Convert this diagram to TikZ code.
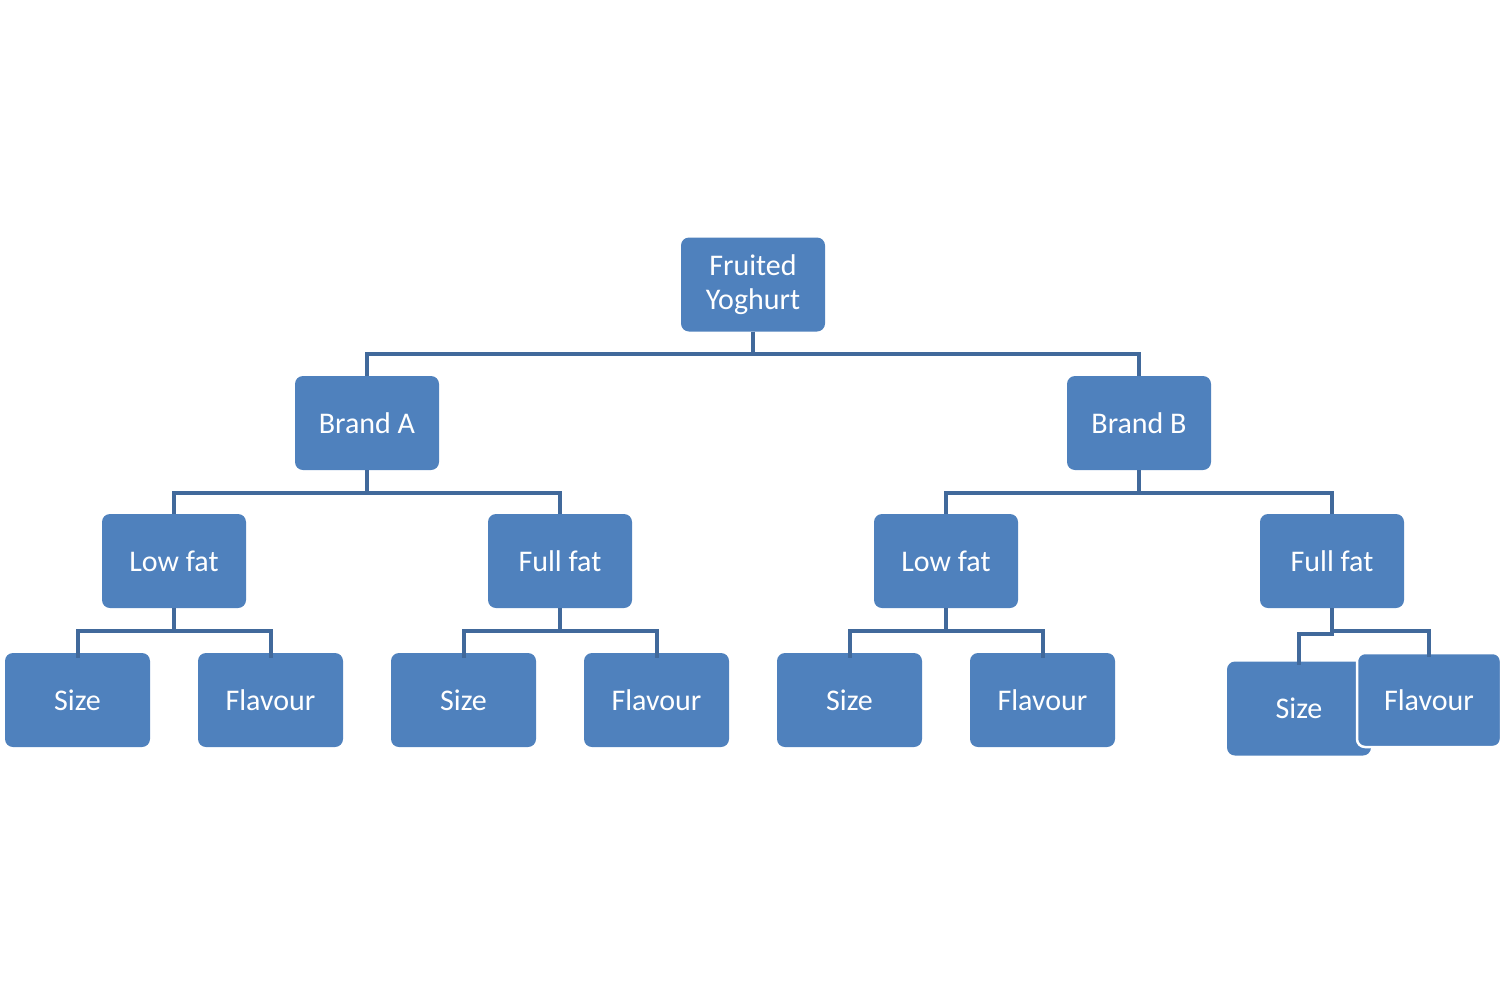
\documentclass[tikz,border=0pt]{standalone}
\usepackage{fontspec}
\setmainfont{Carlito}
\definecolor{boxblue}{HTML}{4F81BD}
\definecolor{linkblue}{HTML}{41699B}
\begin{document}
\begin{tikzpicture}[x=1pt,y=-1pt,
  box/.style={fill=boxblue,draw=none,rounded corners=8pt,text=white,
    minimum width=144pt,minimum height=94pt,inner sep=0pt,align=center,
    font=\fontsize{30}{34}\selectfont},
  leaf/.style={box,minimum width=145pt},
  link/.style={draw=linkblue,line width=4pt}]
\useasboundingbox (0,0) rectangle (1506,985);
\node[box] (root) at (753,284.5) {Fruited\\Yoghurt};
\node[box] (ba) at (367,423) {Brand A};
\node[box] (bb) at (1139,423) {Brand B};
\node[box] (lfa) at (174,561) {Low fat};
\node[box] (ffa) at (560,561) {Full fat};
\node[box] (lfb) at (946,561) {Low fat};
\node[box] (ffb) at (1332,561) {Full fat};
\node[leaf] (sa1) at (77.5,700) {Size};
\node[leaf] (fa1) at (270.5,700) {Flavour};
\node[leaf] (sa2) at (463.5,700) {Size};
\node[leaf] (fa2) at (656.5,700) {Flavour};
\node[leaf] (sb1) at (849.5,700) {Size};
\node[leaf] (fb1) at (1042.5,700) {Flavour};
\node[box] (sb2) at (1299,708.5) {Size};
\node[box,draw=white,line width=2.5pt] (fb2) at (1429,700) {Flavour};
% connectors
\draw[link] (root.south) -- ++(0,22) -| (ba.north);
\draw[link] (root.south) -- ++(0,22) -| (bb.north);
\draw[link] (ba.south) -- ++(0,23) -| (lfa.north);
\draw[link] (ba.south) -- ++(0,23) -| (ffa.north);
\draw[link] (bb.south) -- ++(0,23) -| (lfb.north);
\draw[link] (bb.south) -- ++(0,23) -| (ffb.north);
\draw[link] (lfa.south) -- ++(0,23) -| ([yshift=-5pt]sa1.north);
\draw[link] (lfa.south) -- ++(0,23) -| ([yshift=-5pt]fa1.north);
\draw[link] (ffa.south) -- ++(0,23) -| ([yshift=-5pt]sa2.north);
\draw[link] (ffa.south) -- ++(0,23) -| ([yshift=-5pt]fa2.north);
\draw[link] (lfb.south) -- ++(0,23) -| ([yshift=-5pt]sb1.north);
\draw[link] (lfb.south) -- ++(0,23) -| ([yshift=-5pt]fb1.north);
\draw[link] (ffb.south) -- ++(0,26) -| ([yshift=-4pt]sb2.north);
\draw[link] (ffb.south) -- ++(0,23) -| ([yshift=-5pt]fb2.north);
\end{tikzpicture}
\end{document}
